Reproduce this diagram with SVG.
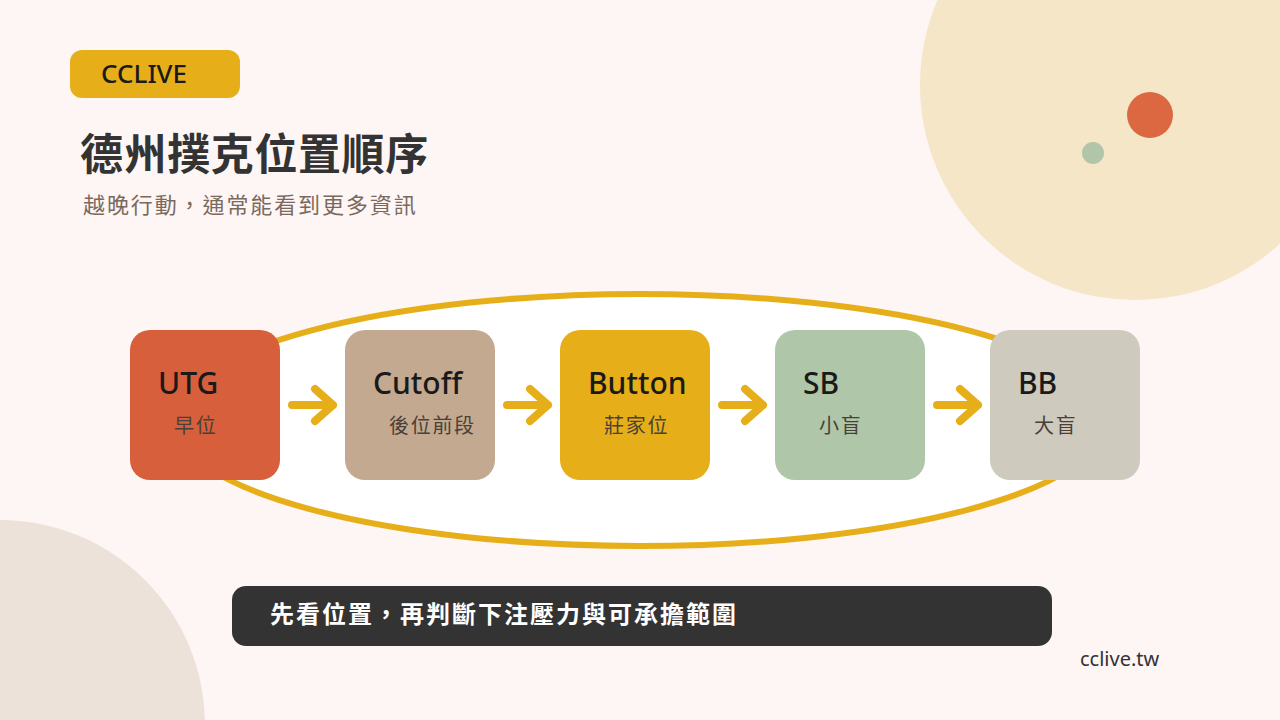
<svg xmlns="http://www.w3.org/2000/svg" width="1280" height="720" viewBox="0 0 1280 720" xml:lang="zh-Hant-TW" lang="zh-Hant-TW">
<style>
text{font-family:"Noto Sans","Noto Sans CJK TC",sans-serif}
.cjk{font-family:"Noto Sans CJK TC","Noto Sans",sans-serif}
.t{font-size:30px;font-weight:500;fill:#1a1a1a}
.s{font-size:20px;fill:#4a4038;letter-spacing:1.7px}
.arr{fill:none;stroke:#E6AF1A;stroke-width:8;stroke-linecap:round;stroke-linejoin:round}
</style>
<rect width="1280" height="720" fill="#FEF5F5"/>
<circle cx="1135" cy="85" r="215" fill="#F5E6C8"/>
<circle cx="1150" cy="115" r="23" fill="#DB6841"/>
<circle cx="1093" cy="153" r="11" fill="#B1C6A8"/>
<circle cx="0" cy="725" r="205" fill="#EDE2D9"/>
<g id="brand">
<rect x="70" y="50" width="170" height="48" rx="12" fill="#E6AF1A"/>
<text x="101" y="83" font-size="26" font-weight="500" fill="#1a1a1a">CCLIVE</text>
</g>
<text class="cjk" x="80" y="170" font-size="43" font-weight="700" letter-spacing="0.6" fill="#333">德州撲克位置順序</text>
<text class="cjk" x="83" y="213" font-size="22" letter-spacing="1.9" fill="#7A6A5E">越晚行動，通常能看到更多資訊</text>
<ellipse cx="640" cy="420" rx="467" ry="126" fill="#FFFFFF" stroke="#E6AF1A" stroke-width="6"/>
<g id="connectors">
<path class="arr" d="M292 405H333M315 389L333 405L315 421"/>
<path class="arr" d="M507 405H548M530 389L548 405L530 421"/>
<path class="arr" d="M722 405H763M745 389L763 405L745 421"/>
<path class="arr" d="M937 405H978M960 389L978 405L960 421"/>
</g>
<g id="utg">
<rect x="130" y="330" width="150" height="150" rx="20" fill="#D85F3B"/>
<text class="t" x="158" y="394">UTG</text>
<text class="s cjk" x="174" y="433">早位</text>
</g>
<g id="cutoff">
<rect x="345" y="330" width="150" height="150" rx="20" fill="#C3A990"/>
<text class="t" x="373" y="394">Cutoff</text>
<text class="s cjk" x="389" y="433">後位前段</text>
</g>
<g id="button">
<rect x="560" y="330" width="150" height="150" rx="20" fill="#E6AF1A"/>
<text class="t" x="588" y="394">Button</text>
<text class="s cjk" x="604" y="433">莊家位</text>
</g>
<g id="sb">
<rect x="775" y="330" width="150" height="150" rx="20" fill="#AFC6A8"/>
<text class="t" x="803" y="394">SB</text>
<text class="s cjk" x="819" y="433">小盲</text>
</g>
<g id="bb">
<rect x="990" y="330" width="150" height="150" rx="20" fill="#CFCABE"/>
<text class="t" x="1018" y="394">BB</text>
<text class="s cjk" x="1034" y="433">大盲</text>
</g>
<g id="note">
<rect x="232" y="586" width="820" height="60" rx="14" fill="#333333"/>
<text class="cjk" x="270" y="623" font-size="24" font-weight="700" letter-spacing="2" fill="#FFFFFF">先看位置，再判斷下注壓力與可承擔範圍</text>
</g>
<text x="1080" y="666" font-size="20" fill="#333">cclive.tw</text>
</svg>
